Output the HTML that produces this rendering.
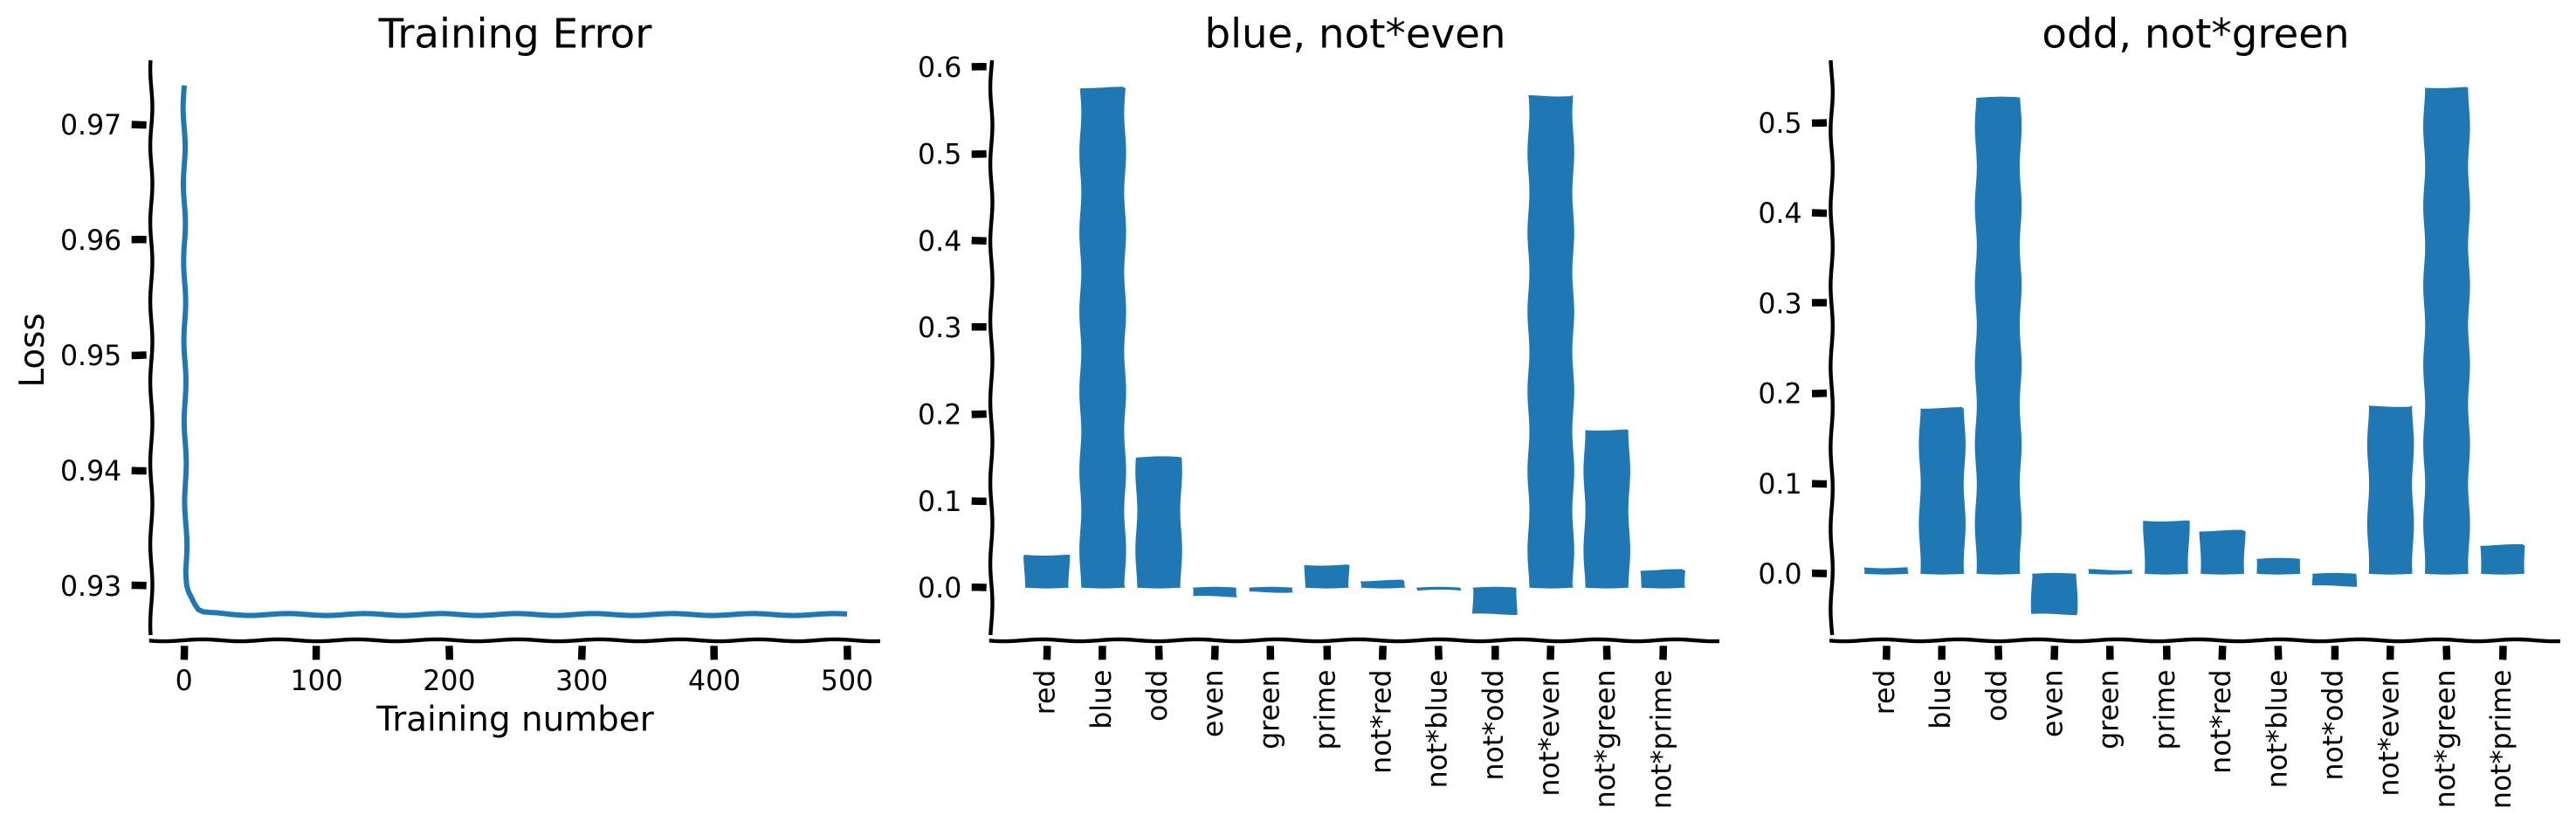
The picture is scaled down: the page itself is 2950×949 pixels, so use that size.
<!DOCTYPE html>
<html lang="en">
<head>
<meta charset="utf-8">
<title>Training Error and concept activations</title>
<style>
  html, body { margin: 0; padding: 0; background: #fff; }
  body { width: 2950px; height: 949px; overflow: hidden; }
  svg { display: block; font-family: "DejaVu Sans", "Liberation Sans", sans-serif; fill: #000; }
</style>
</head>
<body>
<svg id="figure" xmlns="http://www.w3.org/2000/svg" width="2950" height="949" viewBox="0 0 2950 949">
  <rect x="0" y="0" width="2950" height="949" fill="#ffffff"/>
  <g id="panel-loss">
    <text x="590" y="54.5" font-size="46.7" text-anchor="middle">Training Error</text>
    <text x="590" y="836.5" font-size="38.9" text-anchor="middle">Training number</text>
    <text transform="translate(50 401) rotate(-90)" font-size="38.9" text-anchor="middle">Loss</text>
  </g>
  <g id="panel-blue">
    <text x="1552" y="54.5" font-size="46.7" text-anchor="middle">blue, not*even</text>
  </g>
  <g id="panel-odd">
    <text x="2514.5" y="54.5" font-size="46.7" text-anchor="middle">odd, not*green</text>
  </g>
</svg>
<script>
// ---- chart data ----
const epochs = [0, 0.5, 1, 1.7, 2.8, 4, 5.5, 6.6, 8, 10.5, 12, 14.8, 20, 35, 50, 100, 200, 300, 400, 500];
const losses = [0.9734, 0.956, 0.94, 0.9313, 0.93, 0.9295, 0.9291, 0.9288, 0.9284, 0.9279, 0.9278, 0.92765, 0.9276, 0.92753, 0.9275, 0.9275, 0.9275, 0.9275, 0.9275, 0.9275];
const epochTicks = [0, 100, 200, 300, 400, 500];
const lossTicks = [0.93, 0.94, 0.95, 0.96, 0.97];
const categories = ['red', 'blue', 'odd', 'even', 'green', 'prime', 'not*red', 'not*blue', 'not*odd', 'not*even', 'not*green', 'not*prime'];
const blueValues = [0.0378, 0.5755, 0.150, -0.0097, -0.0043, 0.026, 0.0073, -0.0035, -0.030, 0.5676, 0.1815, 0.0195];
const blueTicks = [0.0, 0.1, 0.2, 0.3, 0.4, 0.5, 0.6];
const oddValues = [0.0070, 0.183, 0.5275, -0.0445, 0.0053, 0.0586, 0.0469, 0.0164, -0.0129, 0.1864, 0.5387, 0.031];
const oddTicks = [0.0, 0.1, 0.2, 0.3, 0.4, 0.5];

// ---- helpers ----
const NS = 'http://www.w3.org/2000/svg';
const BLUE = '#1f77b4';
const PERIOD = 90;

function linear(domain, range) {
  const k = (range[1] - range[0]) / (domain[1] - domain[0]);
  return function (v) { return range[0] + (v - domain[0]) * k; };
}

function make(tag, parent) {
  const el = document.createElementNS(NS, tag);
  parent.appendChild(el);
  return el;
}

function toPath(pts, close) {
  return 'M' + pts.map(function (p) { return p[0].toFixed(2) + ' ' + p[1].toFixed(2); }).join('L') + (close ? 'Z' : '');
}

// Resample a polyline and displace it along its normal to mimic the hand-drawn sketch effect.
function sketch(points, amp, phase) {
  const dense = [];
  let total = 0;
  for (let i = 0; i < points.length - 1; i++) {
    const a = points[i], b = points[i + 1];
    const len = Math.hypot(b[0] - a[0], b[1] - a[1]);
    const n = Math.max(1, Math.ceil(len / 3));
    for (let j = 0; j < n; j++) {
      const t = j / n;
      dense.push([a[0] + (b[0] - a[0]) * t, a[1] + (b[1] - a[1]) * t, total + len * t]);
    }
    total += len;
  }
  const last = points[points.length - 1];
  dense.push([last[0], last[1], total]);
  const out = [];
  for (let i = 0; i < dense.length; i++) {
    const p = dense[Math.max(0, i - 2)], q = dense[Math.min(dense.length - 1, i + 2)];
    const dx = q[0] - p[0], dy = q[1] - p[1], m = Math.hypot(dx, dy) || 1;
    const s = dense[i][2];
    const w = amp * Math.cos(2 * Math.PI * s / PERIOD + phase + 0.35 * Math.sin(s / 140));
    out.push([dense[i][0] + (dy / m) * w, dense[i][1] - (dx / m) * w]);
  }
  return out;
}

function barShape(x0, x1, yBase, yVal, phase, seed) {
  const side = 1.1, pts = [];
  const lo = Math.min(yBase, yVal), hi = Math.max(yBase, yVal);
  const sideW = function (y) { return side * Math.cos(2 * Math.PI * (y - phase) / 91); };
  const edgeW = function (x) { return 0.9 * Math.sin(2 * Math.PI * (x - x0) / PERIOD + seed); };
  const bow = function (x) { return 0.9 * Math.sin(Math.PI * (x - x0) / (x1 - x0)); };
  for (let y = hi; y > lo; y -= 4) pts.push([x0 - sideW(y), y]);
  for (let x = x0; x < x1; x += 4) pts.push([x, lo + (yVal < yBase ? edgeW(x) - edgeW(x0) : -bow(x))]);
  for (let y = lo; y < hi; y += 4) pts.push([x1 + sideW(y), y]);
  for (let x = x1; x > x0; x -= 4) pts.push([x, hi + (yVal < yBase ? bow(x) : edgeW(x) - edgeW(x0))]);
  return pts;
}

function drawFrame(group, frame) {
  const ySpine = make('path', group);
  
  
  ySpine.setAttribute('d', toPath(sketch([[frame.left, 69], [frame.left, 727]], 1.2, frame.spinePhase)));
  ySpine.setAttribute('fill', 'none');
  ySpine.setAttribute('stroke', '#000');
  ySpine.setAttribute('stroke-width', '4.4');

  const xSpine = make('path', group);
  
  
  xSpine.setAttribute('d', toPath(sketch([[frame.left - 2.5, 733], [frame.right, 733]], 1.1, 1.9)));
  xSpine.setAttribute('fill', 'none');
  xSpine.setAttribute('stroke', '#000');
  xSpine.setAttribute('stroke-width', '4.4');
}

function drawYTicks(group, frame, ticks, scale) {
  ticks.forEach(function (t, i) {
    const y = scale(t);
    const tick = make('path', group);
    
    
    tick.setAttribute('d', toPath(sketch([[frame.left - 22.6, y], [frame.left - 5.6, y]], 0.5, i * 1.9)));
    tick.setAttribute('fill', 'none');
    tick.setAttribute('stroke', '#000');
    tick.setAttribute('stroke-width', '8.5');

    const label = make('text', group);
    
    
    label.setAttribute('x', frame.left - 34);
    label.setAttribute('y', (y + 11.4).toFixed(2));
    label.setAttribute('font-size', '31.6');
    label.setAttribute('text-anchor', 'end');
    label.textContent = t.toFixed(frame.decimals);
  });
}

function drawXTick(group, x, i) {
  const tick = make('path', group);
  
  
  tick.setAttribute('d', toPath(sketch([[x, 739.3], [x, 755.3]], 0.5, i * 2.3)));
  tick.setAttribute('fill', 'none');
  tick.setAttribute('stroke', '#000');
  tick.setAttribute('stroke-width', '8.5');
}

function drawBarPanel(group, frame, values, ticks, yScale, xScale, barPhase) {
  drawFrame(group, frame);
  drawYTicks(group, frame, ticks, yScale);
  const halfWidth = 0.4 * (xScale(1) - xScale(0));
  categories.forEach(function (cat, i) {
    const cx = xScale(i);
    const bar = make('path', group);
    
    
    bar.setAttribute('d', toPath(barShape(cx - halfWidth, cx + halfWidth, yScale(0), yScale(values[i]), barPhase, i * 1.3), true));
    bar.setAttribute('fill', BLUE);

    drawXTick(group, cx, i);

    const label = make('text', group);
    
    
    label.setAttribute('transform', 'translate(' + (cx + 9).toFixed(2) + ' 766.5) rotate(-90)');
    label.setAttribute('font-size', '31.6');
    label.setAttribute('text-anchor', 'end');
    label.textContent = cat;
  });
}

// ---- training error panel ----
const lossFrame = { left: 173.3, right: 1008, decimals: 2, spinePhase: 2.4 };
const epochX = linear([0, 500], [210.7, 970]);
const lossY = linear([0.93, 0.97], [670.5, 142.7]);
const lossGroup = document.getElementById('panel-loss');
drawFrame(lossGroup, lossFrame);
drawYTicks(lossGroup, lossFrame, lossTicks, lossY);
epochTicks.forEach(function (t, i) {
  const x = epochX(t);
  drawXTick(lossGroup, x, i);
  const label = make('text', lossGroup);
  
  
  label.setAttribute('x', x.toFixed(2));
  label.setAttribute('y', '790');
  label.setAttribute('font-size', '31.6');
  label.setAttribute('text-anchor', 'middle');
  label.textContent = String(t);
});
const lossPoints = epochs.map(function (e, i) { return [epochX(e), lossY(losses[i])]; });
const lossLine = make('path', lossGroup);


lossLine.setAttribute('d', toPath(sketch(lossPoints, 1.1, -2 * Math.PI * 72 / PERIOD)));
lossLine.setAttribute('fill', 'none');
lossLine.setAttribute('stroke', BLUE);
lossLine.setAttribute('stroke-width', '6');
lossLine.setAttribute('stroke-linejoin', 'round');

// ---- bar panels ----
drawBarPanel(
  document.getElementById('panel-blue'),
  { left: 1135.3, right: 1969, decimals: 1, spinePhase: 0.9 },
  blueValues, blueTicks,
  linear([0, 0.6], [672.7, 76.7]),
  linear([0, 11], [1198.7, 1904.3]),
  175
);
drawBarPanel(
  document.getElementById('panel-odd'),
  { left: 2097.6, right: 2932, decimals: 1, spinePhase: 3.6 },
  oddValues, oddTicks,
  linear([0, 0.5], [656.8, 140.4]),
  linear([0, 11], [2160, 2866]),
  145
);
</script>
</body>
</html>
